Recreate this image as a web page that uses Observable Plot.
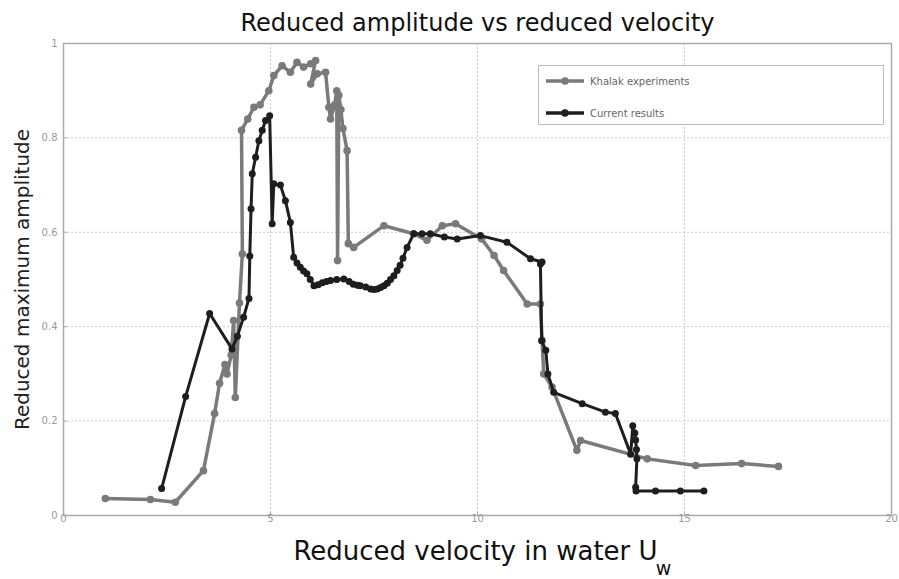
<!DOCTYPE html>
<html>
<head>
<meta charset="utf-8">
<script src="https://cdn.jsdelivr.net/npm/d3@7"></script>
<script src="https://cdn.jsdelivr.net/npm/@observablehq/plot@0.6"></script>
<style>
  html, body { margin: 0; padding: 0; background: #fff; }
  #wrap { position: relative; width: 899px; height: 579px; font-family: "DejaVu Sans", sans-serif; }
  #legend { position: absolute; left: 538px; top: 65px; width: 346px; height: 60px; border: 1.5px solid #bbb; background: #fff; box-sizing: border-box; }
  #legend .row { position: absolute; left: 6px; height: 20px; display: flex; align-items: center; font-size: 10px; color: #666; }
  #legend svg { margin-right: 5px; }
</style>
</head>
<body>
<div id="wrap"></div>
<script>
// Khalak experiments (grey)
const khalakX = [1.01,2.1,2.7,3.38,3.65,3.77,3.9,3.95,4.05,4.11,4.15,4.25,4.32,4.3,4.45,4.6,4.75,4.96,5.08,5.28,5.48,5.64,5.80,5.97,6.09,5.97,6.13,6.33,6.41,6.45,6.55,6.6,6.62,6.65,6.7,6.75,6.85,6.88,7.01,7.74,8.46,8.78,9.15,9.47,10.1,10.4,10.63,11.2,11.52,11.56,11.6,11.8,12.4,12.49,14.1,15.27,16.38,17.27];
const khalakY = [0.036,0.034,0.028,0.095,0.216,0.28,0.32,0.30,0.34,0.413,0.25,0.45,0.554,0.816,0.84,0.865,0.87,0.90,0.932,0.953,0.939,0.96,0.95,0.957,0.964,0.914,0.936,0.939,0.865,0.84,0.87,0.90,0.54,0.89,0.86,0.82,0.773,0.576,0.568,0.614,0.597,0.583,0.614,0.618,0.586,0.551,0.519,0.448,0.448,0.371,0.30,0.272,0.138,0.159,0.12,0.106,0.11,0.104];

// Current results (black)
const currentX = [2.37,2.95,3.53,4.07,4.2,4.35,4.48,4.5,4.53,4.56,4.64,4.72,4.8,4.88,4.98,5.04,5.08,5.24,5.36,5.48,5.56,5.64,5.72,5.8,5.88,5.96,6.05,6.15,6.25,6.35,6.45,6.6,6.77,6.9,7.0,7.1,7.17,7.3,7.42,7.5,7.58,7.66,7.74,7.82,7.9,7.98,8.06,8.13,8.2,8.3,8.46,8.66,8.86,9.2,9.51,10.07,10.71,11.28,11.56,11.52,11.55,11.65,11.7,11.84,12.53,13.09,13.33,13.7,13.75,13.8,13.82,13.84,13.85,13.82,13.83,14.3,14.9,15.47];
const currentY = [0.057,0.252,0.428,0.353,0.38,0.42,0.46,0.55,0.65,0.724,0.759,0.794,0.816,0.837,0.847,0.618,0.703,0.70,0.667,0.621,0.547,0.535,0.526,0.518,0.512,0.5,0.487,0.489,0.493,0.496,0.498,0.5,0.501,0.496,0.49,0.488,0.487,0.484,0.48,0.479,0.48,0.483,0.487,0.492,0.50,0.508,0.519,0.53,0.545,0.568,0.597,0.597,0.597,0.59,0.586,0.593,0.579,0.544,0.537,0.533,0.37,0.35,0.30,0.261,0.237,0.219,0.216,0.13,0.19,0.175,0.16,0.14,0.12,0.06,0.052,0.052,0.052,0.052];

const xTicks = [0,5,10,15,20];
const yTicks = [0,0.2,0.4,0.6,0.8,1];
const seriesNames = ["Khalak experiments", "Current results"];
const seriesColors = ["#7a7a7a", "#1e1e1e"];

const khalak = khalakX.map((x,i) => ({x, y: khalakY[i]}));
const current = currentX.map((x,i) => ({x, y: currentY[i]}));

const fmt = v => (v === 0 ? "0" : v === 1 ? "1" : String(v));

const plot = Plot.plot({
  width: 899,
  height: 579,
  marginLeft: 63,
  marginRight: 8,
  marginTop: 43,
  marginBottom: 64,
  style: { fontFamily: "DejaVu Sans, sans-serif", background: "#fff" },
  x: { domain: [0, 20], ticks: xTicks, label: null },
  y: { domain: [0, 1], ticks: yTicks, label: null },
  marks: [
    Plot.gridX(xTicks, { stroke: "#999", strokeOpacity: 0.5, strokeDasharray: "2,2" }),
    Plot.gridY(yTicks, { stroke: "#999", strokeOpacity: 0.5, strokeDasharray: "2,2" }),
    Plot.frame({ stroke: "#aaa", strokeWidth: 1.5 }),
    Plot.axisX(xTicks, { tickSize: -4, tickPadding: 3, fontSize: 10, fill: "#999", stroke: "#aaa", tickFormat: fmt }),
    Plot.axisY(yTicks, { tickSize: -4, tickPadding: 10, fontSize: 10, fill: "#999", stroke: "#aaa", tickFormat: fmt }),
    Plot.line(khalak, { x: "x", y: "y", stroke: seriesColors[0], strokeWidth: 3.5, curve: "linear" }),
    Plot.dot(khalak, { x: "x", y: "y", r: 3.8, fill: seriesColors[0], stroke: "none" }),
    Plot.line(current, { x: "x", y: "y", stroke: seriesColors[1], strokeWidth: 3, curve: "linear" }),
    Plot.dot(current, { x: "x", y: "y", r: 3.5, fill: seriesColors[1], stroke: "none" }),
    Plot.text(["Reduced amplitude vs reduced velocity"], { frameAnchor: "top", dy: -30, fontSize: 24, fill: "#111" }),
    Plot.text(["Reduced velocity in water U"], { frameAnchor: "bottom", dy: 44, dx: -2, fontSize: 26, fill: "#111" }),
    Plot.text(["w"], { frameAnchor: "bottom", dy: 59, dx: 186, fontSize: 19, fill: "#111" }),
    Plot.text(["Reduced maximum amplitude"], { frameAnchor: "left", textAnchor: "middle", dx: -41, rotate: -90, fontSize: 20, fill: "#222" })
  ]
});

const wrap = document.getElementById("wrap");
wrap.appendChild(plot);

// legend
const legend = document.createElement("div");
legend.id = "legend";
seriesNames.forEach((name, i) => {
  const row = document.createElement("div");
  row.className = "row";
  row.style.top = (i === 0 ? 5 : 37) + "px";
  row.innerHTML = `<svg width="40" height="10"><line x1="1" y1="5" x2="39" y2="5" stroke="${seriesColors[i]}" stroke-width="3.5"/><circle cx="20" cy="5" r="3.8" fill="${seriesColors[i]}"/></svg><span>${name}</span>`;
  legend.appendChild(row);
});
wrap.appendChild(legend);
</script>
</body>
</html>
